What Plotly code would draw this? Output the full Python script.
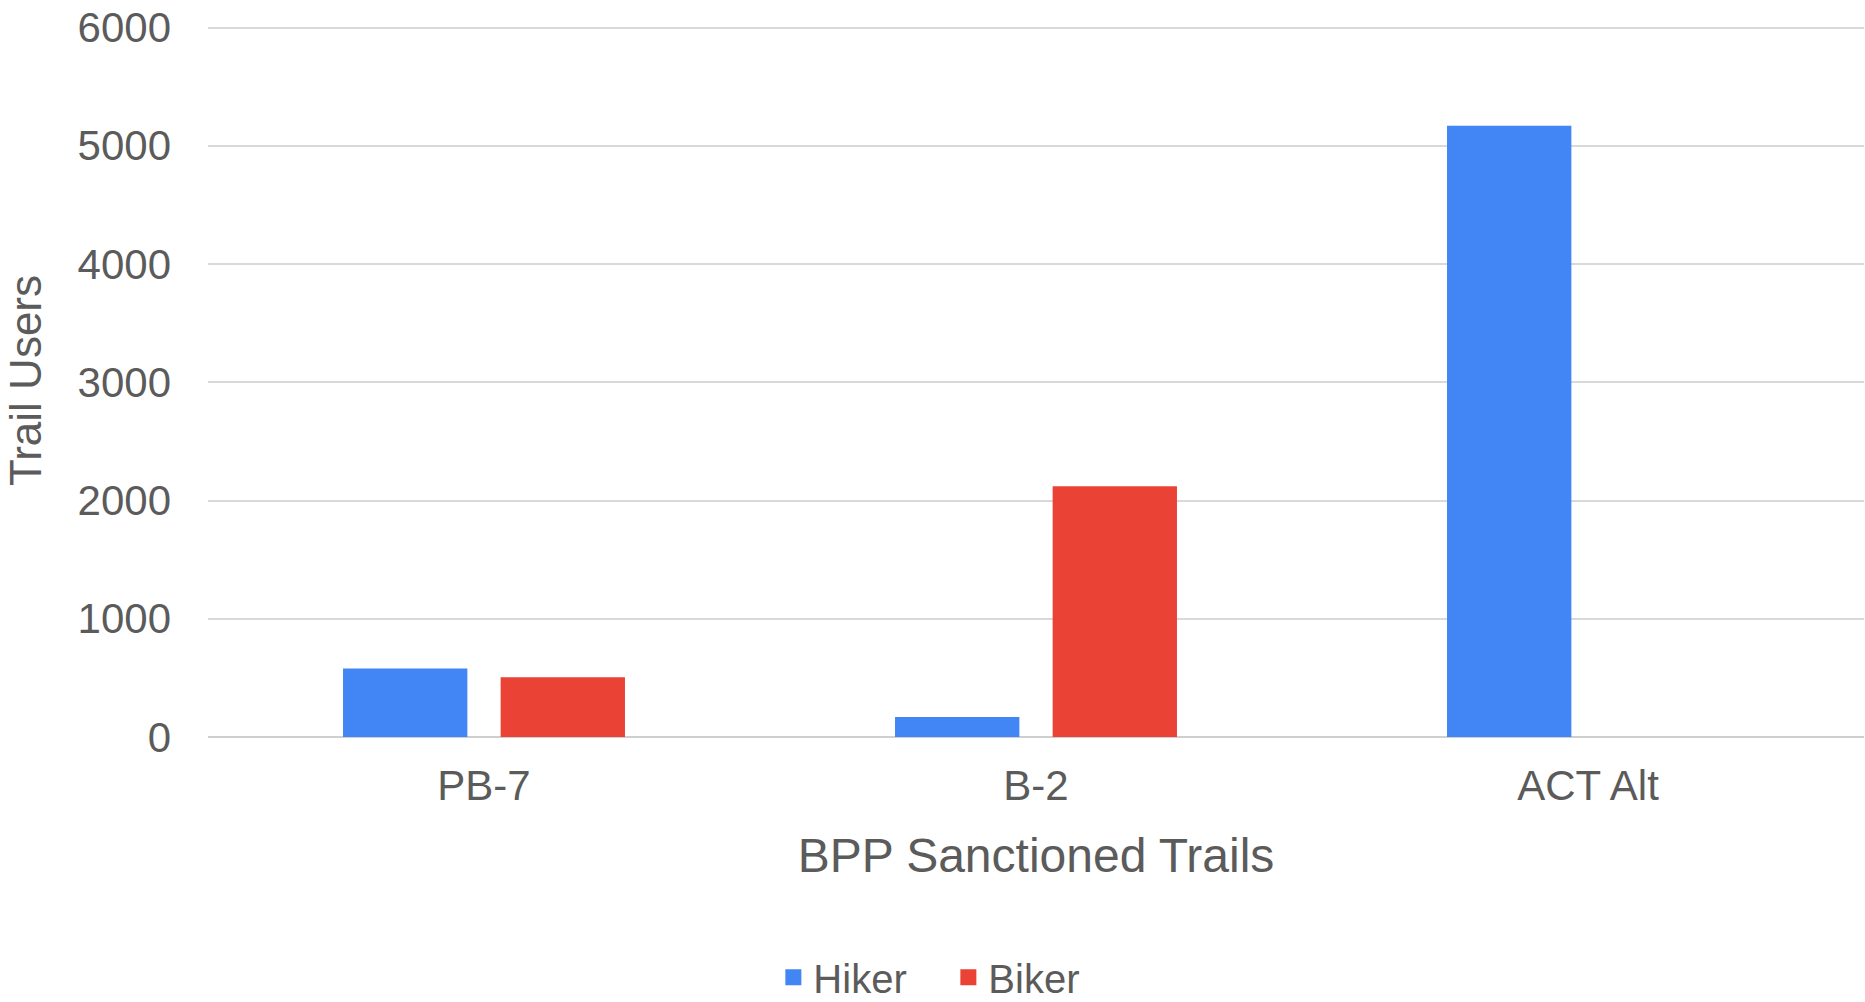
import plotly.graph_objects as go

categories = ["PB-7", "B-2", "ACT Alt"]
hiker = [580, 170, 5170]
biker = [505, 2120, 0]
y_ticks = [0, 1000, 2000, 3000, 4000, 5000, 6000]

FONT = "Liberation Sans, Arial, sans-serif"
TXT = "#5b5b5b"
BLUE = "#4285F4"
RED = "#EA4335"

fig = go.Figure()
fig.add_trace(go.Bar(name="Hiker", x=categories, y=hiker, marker_color=BLUE,
                     marker_line_width=0, showlegend=False))
fig.add_trace(go.Bar(name="Biker", x=categories, y=biker, marker_color=RED,
                     marker_line_width=0, showlegend=False))
# legend entries with larger square swatches
fig.add_trace(go.Scatter(name="Hiker", x=[None], y=[None], mode="markers",
                         marker=dict(symbol="square", size=20, color=BLUE)))
fig.add_trace(go.Scatter(name="Biker", x=[None], y=[None], mode="markers",
                         marker=dict(symbol="square", size=20, color=RED)))

fig.update_layout(
    width=1865, height=1002,
    margin=dict(l=208, r=1, t=24, b=265, autoexpand=False),
    paper_bgcolor="white", plot_bgcolor="white",
    barmode="group", bargap=0.429, bargroupgap=0.211,
    font=dict(family=FONT, color=TXT, size=42),
    showlegend=True,
    legend=dict(orientation="h", x=0.3414, xanchor="left", y=-0.337, yanchor="middle",
                font=dict(size=40, color=TXT), itemsizing="trace",
                entrywidth=130, entrywidthmode="pixels"),
    xaxis=dict(
        title=dict(text="BPP Sanctioned Trails", font=dict(size=48, color=TXT), standoff=30),
        tickfont=dict(size=42, color=TXT), showgrid=False, zeroline=False,
        showline=False, ticks="", ticklabelstandoff=20, automargin=False,
    ),
    yaxis=dict(
        title=dict(text="Trail Users", font=dict(size=44, color=TXT), standoff=22),
        range=[0, 6030], tickvals=y_ticks, ticktext=[str(v) for v in y_ticks],
        tickfont=dict(size=42, color=TXT), showgrid=True, gridcolor="#d9d9d9", gridwidth=2,
        zeroline=True, zerolinecolor="#cfcfcf", zerolinewidth=2, showline=False,
        ticks="", ticklabelstandoff=36, automargin=False,
    ),
)

fig.write_html(
    "out.html",
    config={"displayModeBar": False},
    post_script="document.body.style.margin='0';document.body.style.overflow='hidden';",
)
